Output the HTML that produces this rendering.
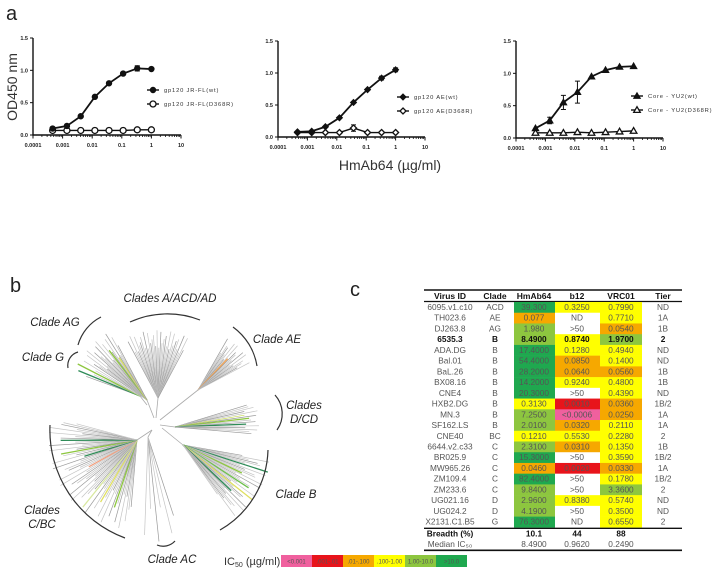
<!DOCTYPE html>
<html><head><meta charset="utf-8">
<style>
body{margin:0;background:#fff;}
svg{display:block;font-family:"Liberation Sans",sans-serif;}
</style></head>
<body>
<svg id="fig" width="720" height="576" viewBox="0 0 720 576">
<text x="6" y="20" font-size="20" fill="#222">a</text>
<text x="10" y="292" font-size="20" fill="#222">b</text>
<text x="350" y="296" font-size="20" fill="#222">c</text>
<text transform="translate(17,87) rotate(-90)" text-anchor="middle" font-size="14" fill="#333">OD450 nm</text>
<text x="390" y="170" text-anchor="middle" font-size="14" fill="#333">HmAb64 (µg/ml)</text>
<g id="charts"></g>
<g id="tree"></g>
<g id="table"></g>
<g id="legend">
<text x="224" y="565" font-size="11" fill="#333">IC<tspan font-size="7" dy="2">50</tspan><tspan dy="-2"> (µg/ml)</tspan></text>
</g>
</svg>
<script>
const NS='http://www.w3.org/2000/svg';
function mk(tag,attrs,parent,txt){const e=document.createElementNS(NS,tag);for(const k in attrs)e.setAttribute(k,attrs[k]);if(txt!==undefined)e.textContent=txt;parent.appendChild(e);return e;}

// ---- Chart data ----
const concentrations=[0.00046,0.0014,0.0041,0.0123,0.037,0.111,0.333,1];
const xTickLabels=['0.0001','0.001','0.01','0.1','1','10'];
const yTickLabels=['0.0','0.5','1.0','1.5'];
const jrflWt=[0.10,0.14,0.29,0.59,0.80,0.95,1.03,1.02];
const jrflMut=[0.07,0.07,0.07,0.07,0.07,0.07,0.08,0.08];
const jrflWtErr=[0,0,0,0.02,0,0.02,0.04,0];
const aeWt=[0.08,0.09,0.16,0.30,0.54,0.74,0.92,1.05];
const aeMut=[0.07,0.07,0.07,0.07,0.14,0.07,0.07,0.07];
const aeWtErr=[0,0,0,0,0,0,0.03,0.03];
const aeMutErr=[0,0,0,0,0.05,0,0,0];
const yu2Wt=[0.15,0.27,0.55,0.71,0.95,1.05,1.10,1.11];
const yu2Mut=[0.08,0.08,0.08,0.09,0.08,0.09,0.10,0.11];
const yu2WtErr=[0,0.05,0.11,0.17,0,0,0,0];
const legendJrfl=['gp120 JR-FL(wt)','gp120 JR-FL(D368R)'];
const legendAe=['gp120 AE(wt)','gp120 AE(D368R)'];
const legendYu2=['Core - YU2(wt)','Core - YU2(D368R)'];

const charts=[
 {name:'jrfl',x0:33,dec:29.6,y0:135,y15:38,wt:jrflWt,mut:jrflMut,wtErr:jrflWtErr,mutErr:null,shape:'circle',legend:legendJrfl,lx:153,ly:90},
 {name:'ae',x0:278,dec:29.4,y0:137,y15:41,wt:aeWt,mut:aeMut,wtErr:aeWtErr,mutErr:aeMutErr,shape:'diamond',legend:legendAe,lx:403,ly:97},
 {name:'yu2',x0:516,dec:29.4,y0:138,y15:41,wt:yu2Wt,mut:yu2Mut,wtErr:yu2WtErr,mutErr:null,shape:'triangle',legend:legendYu2,lx:637,ly:96}
];
function marker(g,shape,x,y,filled,name){
  let e;const st=filled?{fill:'#111',stroke:'#111','stroke-width':1}:{fill:'#fff',stroke:'#111','stroke-width':1.3};
  if(shape==='circle')e=mk('circle',Object.assign({cx:x,cy:y,r:filled?2.7:3},st),g);
  else if(shape==='diamond')e=mk('polygon',Object.assign({points:`${x},${y-3} ${x+3},${y} ${x},${y+3} ${x-3},${y}`},st),g);
  else e=mk('polygon',Object.assign({points:`${x},${y-3.3} ${x+3.3},${y+2.4} ${x-3.3},${y+2.4}`},st),g);
  
  
}
const chartsG=document.getElementById('charts');
charts.forEach(c=>{
  const g=mk('g',{},chartsG);
  
  
  const xs=v=>c.x0+(Math.log10(v)+4)*c.dec;
  const ys=v=>c.y0-(v/1.5)*(c.y0-c.y15);
  const xEnd=xs(10);
  const ax=mk('path',{d:`M${c.x0},${c.y15} V${c.y0} H${xEnd}`,stroke:'#111','stroke-width':1.4,fill:'none'},g);
  
  
  yTickLabels.forEach((t,i)=>{
    const y=ys(parseFloat(t));
    mk('line',{x1:c.x0-3,x2:c.x0,y1:y,y2:y,stroke:'#111','stroke-width':1},g);
    const tl=mk('text',{x:c.x0-5,y:y+2,'text-anchor':'end','font-size':5.5,'font-weight':'bold',fill:'#222'},g,t);
    
    
  });
  xTickLabels.forEach((t,i)=>{
    const x=xs(parseFloat(t));
    mk('line',{x1:x,x2:x,y1:c.y0,y2:c.y0+3.5,stroke:'#111','stroke-width':1},g);
    if(i<xTickLabels.length-1){for(let k=2;k<10;k++){const xm=xs(parseFloat(t)*k);mk('line',{x1:xm,x2:xm,y1:c.y0,y2:c.y0+2,stroke:'#111','stroke-width':0.8},g);}}
    const tl=mk('text',{x:x,y:c.y0+12,'text-anchor':'middle','font-size':5.5,'font-weight':'bold',fill:'#222'},g,t);
    
    
  });
  [[c.mut,c.mutErr,false],[c.wt,c.wtErr,true]].forEach(([vals,errs,filled])=>{
    const pts=vals.map((v,i)=>[xs(concentrations[i]),ys(v)]);
    const ln=mk('polyline',{points:pts.map(p=>p.join(',')).join(' '),fill:'none',stroke:'#111','stroke-width':filled?1.8:1.4},g);
    
    
    if(errs)errs.forEach((e,i)=>{if(e>0){const x=pts[i][0];const a=ys(vals[i]+e),b=ys(vals[i]-e);
      mk('path',{d:`M${x},${a}V${b}M${x-2.5},${a}H${x+2.5}M${x-2.5},${b}H${x+2.5}`,stroke:'#111','stroke-width':1,fill:'none'},g);}});
    pts.forEach(p=>marker(g,c.shape,p[0],p[1],filled,filled?'wt-point':'d368r-point'));
  });
  c.legend.forEach((t,i)=>{
    const y=c.ly+i*14;
    mk('line',{x1:c.lx-6,x2:c.lx+6,y1:y,y2:y,stroke:'#111','stroke-width':1.4},g);
    marker(g,c.shape,c.lx,y,i===0,'legend-marker');
    const tl=mk('text',{x:c.lx+11,y:y+2,'font-size':5.8,fill:'#333','letter-spacing':'0.8'},g,t);
    
    
  });
});

// ---- Tree (decorative structure) ----
const tree=document.getElementById('tree');
const clusters=[
 {name:'a-acd-ad',node:[158,398],from:[156,418],a0:-118,a1:-62,n:34,r0:50,r1:68,colored:[]},
 {name:'ag',node:[147,400],from:[154,418],a0:-146,a1:-118,n:22,r0:50,r1:78,colored:[[14,'#8dc63f'],[17,'#d8e060']]},
 {name:'g',node:[140,396],from:[147,405],a0:-160,a1:-148,n:6,r0:50,r1:70,colored:[[1,'#2e8b57'],[3,'#8dc63f']]},
 {name:'ae',node:[198,390],from:[160,420],a0:-60,a1:-28,n:20,r0:40,r1:60,colored:[[8,'#f0a050']]},
 {name:'d-cd',node:[175,427],from:[160,425],a0:-17,a1:5,n:16,r0:70,r1:84,colored:[[7,'#8dc63f'],[10,'#2e8b57'],[5,'#c8dc50']]},
 {name:'b',node:[183,445],from:[162,428],a0:10,a1:55,n:36,r0:60,r1:90,colored:[[6,'#2e8b57'],[12,'#8dc63f'],[18,'#6bbf4a'],[22,'#e0e060'],[26,'#2e8b57']]},
 {name:'c-bc',node:[137,440],from:[152,430],a0:95,a1:195,n:60,r0:55,r1:90,colored:[[8,'#8dc63f'],[15,'#e0e060'],[20,'#d8e8a0'],[40,'#2e8b57'],[44,'#8dc63f'],[50,'#2e8b57'],[33,'#f0a080']]},
 {name:'ac',node:[148,437],from:[152,430],a0:72,a1:92,n:6,r0:70,r1:105,colored:[]}
];
clusters.forEach(cl=>{
  const g=mk('g',{},tree);
  
  
  mk('line',{x1:cl.from[0],y1:cl.from[1],x2:cl.node[0],y2:cl.node[1],stroke:'#aaa','stroke-width':0.8},g);
  for(let i=0;i<cl.n;i++){
    const a=(cl.a0+(cl.a1-cl.a0)*i/(cl.n-1))*Math.PI/180;
    const f=0.5+0.5*Math.sin(i*2.7+cl.n);
    const r=cl.r0+(cl.r1-cl.r0)*f;
    const col=(cl.colored.find(c=>c[0]===i)||[0,i%3===0?'#999':'#c4c4c4'])[1];
    mk('line',{x1:cl.node[0],y1:cl.node[1],x2:cl.node[0]+r*Math.cos(a),y2:cl.node[1]+r*Math.sin(a),stroke:col,'stroke-width':col.startsWith('#c')||col==='#999'?0.7:1.3},g);
  }
});
const brackets=[
 {label:['Clades A/ACD/AD'],s:[130,322],e:[200,320],r:90,lx:170,ly:302},
 {label:['Clade AG'],s:[78,345],e:[101,317],r:45,lx:55,ly:326},
 {label:['Clade G'],s:[68,368],e:[78,352],r:14,lx:43,ly:361},
 {label:['Clade AE'],s:[233,327],e:[257,366],r:60,lx:277,ly:343},
 {label:['Clades','D/CD'],s:[275,395],e:[277,430],r:28,lx:304,ly:409},
 {label:['Clade B'],s:[268,450],e:[220,530],r:95,lx:296,ly:498},
 {label:['Clades','C/BC'],s:[125,538],e:[50,425],r:115,lx:42,ly:514},
 {label:['Clade AC'],s:[175,541],e:[157,545],r:16,lx:172,ly:563}
];
brackets.forEach(b=>{
  const g=mk('g',{},tree);
  
  
  mk('path',{d:`M${b.s[0]},${b.s[1]} A${b.r},${b.r} 0 0 1 ${b.e[0]},${b.e[1]}`,fill:'none',stroke:'#333','stroke-width':1.2},g);
  b.label.forEach((t,i)=>{
    const tl=mk('text',{x:b.lx,y:b.ly+i*14,'text-anchor':'middle','font-size':11.5,'font-style':'italic',fill:'#222'},g,t);
    
    
  });
});

// ---- Table ----
const C={DG:'#1fa84f',LG:'#8dc63f',Y:'#ffff00',O:'#f6a800',R:'#e8141b',P:'#f0609e',W:'#ffffff'};
const rows=[
 ['6095.v1.c10','ACD','39.300','0.3250','0.7990','ND','DG','Y','Y'],
 ['TH023.6','AE','0.077','ND','0.7710','1A','O','W','Y'],
 ['DJ263.8','AG','1.980','>50','0.0540','1B','LG','W','O'],
 ['6535.3','B','8.4900','0.8740','1.9700','2','LG','Y','LG'],
 ['ADA.DG','B','17.4000','0.1280','0.4940','ND','DG','Y','Y'],
 ['Bal.01','B','54.4000','0.0850','0.1400','ND','DG','O','Y'],
 ['BaL.26','B','28.2000','0.0640','0.0560','1B','DG','O','O'],
 ['BX08.16','B','14.2000','0.9240','0.4800','1B','DG','Y','Y'],
 ['CNE4','B','20.3000','>50','0.4390','ND','DG','W','Y'],
 ['HXB2.DG','B','0.3130','0.0010','0.0360','1B/2','Y','R','O'],
 ['MN.3','B','7.2500','<0.0006','0.0250','1A','LG','P','O'],
 ['SF162.LS','B','2.0100','0.0320','0.2110','1A','LG','O','Y'],
 ['CNE40','BC','0.1210','0.5530','0.2280','2','Y','Y','Y'],
 ['6644.v2.c33','C','2.3100','0.0310','0.1350','1B','LG','O','Y'],
 ['BR025.9','C','15.3000','>50','0.3590','1B/2','DG','W','Y'],
 ['MW965.26','C','0.0460','0.0020','0.0330','1A','O','R','O'],
 ['ZM109.4','C','82.4000','>50','0.1780','1B/2','DG','W','Y'],
 ['ZM233.6','C','9.8400','>50','3.3600','2','LG','W','LG'],
 ['UG021.16','D','2.9600','0.8380','0.5740','ND','LG','Y','Y'],
 ['UG024.2','D','4.1900','>50','0.3500','ND','LG','W','Y'],
 ['X2131.C1.B5','G','76.3000','ND','0.6550','2','DG','W','Y']
];
const headers=['Virus ID','Clade','HmAb64','b12','VRC01','Tier'];
const colX=[450,495,534,577,621,663];
const cellL=[514,555,600],cellW=[41,45,42];
const tb=document.getElementById('table');
mk('line',{x1:424,x2:682,y1:290,y2:290,stroke:'#111','stroke-width':1.6},tb);
mk('line',{x1:424,x2:682,y1:301.5,y2:301.5,stroke:'#111','stroke-width':1.2},tb);
headers.forEach((h,i)=>{const t=mk('text',{x:colX[i],y:299,'text-anchor':'middle','font-size':8.5,'font-weight':'bold',fill:'#111'},tb,h);
  
  });
const pitch=10.73,r0=302;
rows.forEach((r,ri)=>{
  const y=r0+ri*pitch;
  const g=mk('g',{},tb);
  
  
  for(let k=0;k<3;k++)mk('rect',{x:cellL[k],y:y,width:cellW[k],height:pitch+0.3,fill:C[r[6+k]]},g);
  const bold=r[0]==='6535.3';
  for(let k=0;k<6;k++)mk('text',{x:colX[k],y:y+8,'text-anchor':'middle','font-size':8.3,fill:bold?'#111':'#555','font-weight':bold?'bold':'normal'},g,r[k]);
});
const yb=r0+rows.length*pitch;
mk('line',{x1:424,x2:682,y1:yb+1,y2:yb+1,stroke:'#111','stroke-width':1.4},tb);
mk('text',{x:450,y:yb+9,'text-anchor':'middle','font-size':8.3,'font-weight':'bold',fill:'#111'},tb,'Breadth (%)');
[['10.1',534],['44',577],['88',621]].forEach(a=>mk('text',{x:a[1],y:yb+9,'text-anchor':'middle','font-size':8.3,'font-weight':'bold',fill:'#111'},tb,a[0]));
mk('text',{x:450,y:yb+19.5,'text-anchor':'middle','font-size':8.3,fill:'#555'},tb,'Median IC₅₀');
[['8.4900',534],['0.9620',577],['0.2490',621]].forEach(a=>mk('text',{x:a[1],y:yb+19.5,'text-anchor':'middle','font-size':8.3,fill:'#555'},tb,a[0]));
mk('line',{x1:424,x2:682,y1:yb+23,y2:yb+23,stroke:'#111','stroke-width':1.6},tb);

// ---- Legend ----
const lg=document.getElementById('legend');
const legItems=[['<0.001','P'],['.001-.01','R'],['.01-.100','O'],['.100-1.00','Y'],['1.00-10.0','LG'],['>10.0','DG']];
legItems.forEach((it,i)=>{
  const g=mk('g',{},lg);
  
  
  mk('rect',{x:281+i*31,y:555,width:31,height:12,fill:C[it[1]]},g);
  mk('text',{x:296.5+i*31,y:563.5,'text-anchor':'middle','font-size':6,fill:'#555'},g,it[0]);
});
</script>
</body></html>
